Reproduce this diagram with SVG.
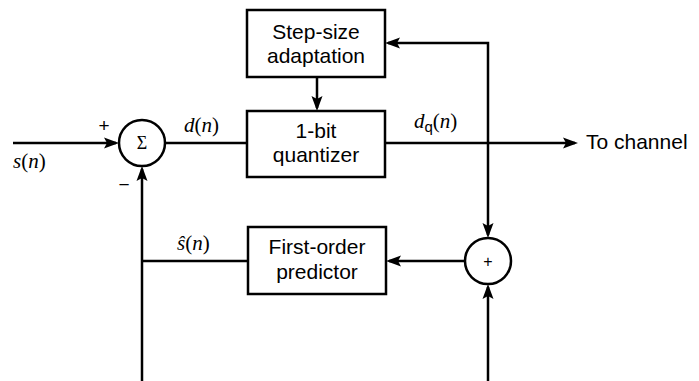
<svg xmlns="http://www.w3.org/2000/svg" width="699" height="381" viewBox="0 0 699 381">
  <style>
    .box { fill: #fff; stroke: #000; stroke-width: 2.5; }
    .wire { fill: none; stroke: #000; stroke-width: 2.5; }
    .lbl { font-family: "Liberation Sans", Arial, sans-serif; font-size: 21px; fill: #000; text-anchor: middle; }
    .math { font-family: "Liberation Serif", "DejaVu Serif", serif; font-style: italic; font-size: 21px; fill: #000; }
    .up { font-style: normal; }
    .sign { font-family: "Liberation Sans", Arial, sans-serif; font-size: 19px; fill: #000; text-anchor: middle; }
  </style>
  <defs>
    <marker id="arrow" markerUnits="userSpaceOnUse" markerWidth="20" markerHeight="14" viewBox="-14 -7 20 14" refX="0" refY="0" orient="auto" overflow="visible">
      <path d="M3,0 L-12,-5.5 L-9,0 L-12,5.5 Z" fill="#000"/>
    </marker>
  </defs>

  <!-- connectors -->
  <g id="connectors">
    <path class="wire" d="M13,143 H116" marker-end="url(#arrow)"/>
    <path class="wire" d="M165,143 H247"/>
    <path class="wire" d="M317,77 V108" marker-end="url(#arrow)"/>
    <path class="wire" d="M385,143 H575" marker-end="url(#arrow)"/>
    <path class="wire" d="M488,143 V43 H388" marker-end="url(#arrow)"/>
    <path class="wire" d="M488,143 V235" marker-end="url(#arrow)"/>
    <path class="wire" d="M488,381 V287" marker-end="url(#arrow)"/>
    <path class="wire" d="M465,261 H389" marker-end="url(#arrow)"/>
    <path class="wire" d="M248,261 H142"/>
    <path class="wire" d="M142,381 V169" marker-end="url(#arrow)"/>
  </g>

  <!-- summing junction -->
  <g id="sum">
    <circle class="box" cx="142" cy="143" r="23"/>
    <text x="142" y="149" font-family="Liberation Serif, serif" font-size="18" text-anchor="middle">Σ</text>
    <text class="sign" x="104" y="132">+</text>
    <text class="sign" x="124" y="191">−</text>
  </g>

  <!-- step-size adaptation -->
  <g id="stepsize">
    <rect class="box" x="247" y="10" width="138" height="67"/>
    <text class="lbl" x="316" y="39">Step-size</text>
    <text class="lbl" x="316" y="63">adaptation</text>
  </g>

  <!-- quantizer -->
  <g id="quantizer">
    <rect class="box" x="247" y="111" width="138" height="66"/>
    <text class="lbl" x="316" y="138">1-bit</text>
    <text class="lbl" x="316" y="162">quantizer</text>
  </g>

  <!-- predictor -->
  <g id="predictor">
    <rect class="box" x="248" y="227" width="138" height="67"/>
    <text class="lbl" x="317" y="254">First-order</text>
    <text class="lbl" x="317" y="279">predictor</text>
  </g>

  <!-- reconstruction adder -->
  <g id="adder">
    <circle class="box" cx="488" cy="261" r="23"/>
    <text x="488" y="267" font-family="Liberation Sans, sans-serif" font-size="16" text-anchor="middle">+</text>
  </g>

  <!-- signal labels -->
  <g id="labels">
    <text class="math" x="13" y="168">s<tspan class="up">(</tspan>n<tspan class="up">)</tspan></text>
    <text class="math" x="184" y="132">d<tspan class="up">(</tspan>n<tspan class="up">)</tspan></text>
    <text class="math" x="414" y="128">d<tspan font-family="Liberation Sans, sans-serif" font-style="normal" font-size="15" dy="4">q</tspan><tspan class="up" dy="-4">(</tspan>n<tspan class="up">)</tspan></text>
    <text class="math" x="177" y="250">ŝ<tspan class="up">(</tspan>n<tspan class="up">)</tspan></text>
    <text x="586" y="149" font-family="Liberation Sans, Arial, sans-serif" font-size="21">To channel</text>
  </g>
</svg>
